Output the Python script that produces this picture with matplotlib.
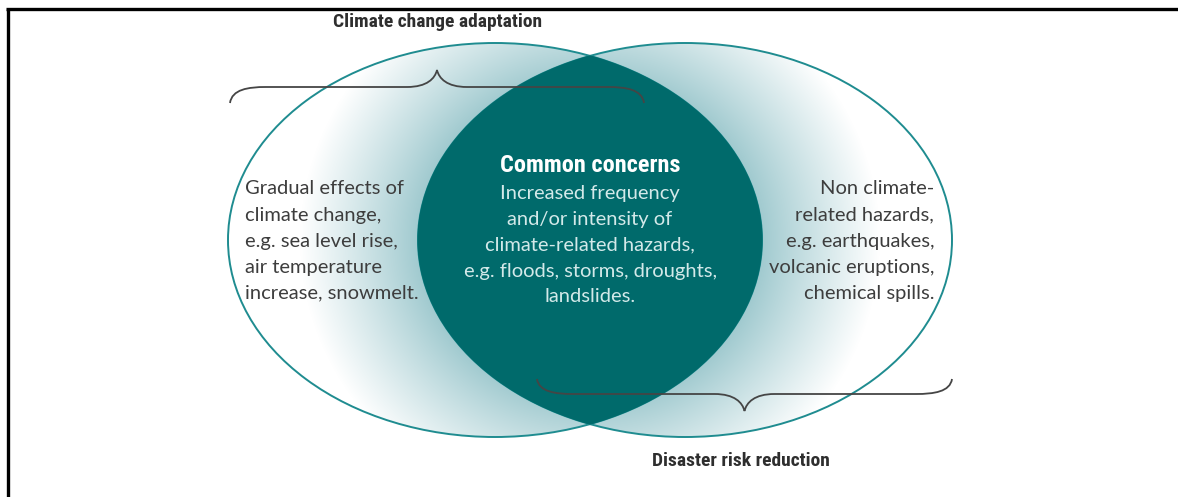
#!/usr/bin/env python3
"""Venn diagram: climate change adaptation vs disaster risk reduction."""

import numpy as np
import matplotlib
matplotlib.use("Agg")
import matplotlib.pyplot as plt
from matplotlib.patches import Ellipse, Polygon, PathPatch
from matplotlib.path import Path

W, H = 1178, 497

SET_LABELS = ["Climate change adaptation", "Disaster risk reduction"]
COMMON_TITLE = "Common concerns"
LEFT_LINES = ["Gradual effects of", "climate change,", "e.g. sea level rise,",
              "air temperature", "increase, snowmelt."]
RIGHT_LINES = ["Non climate-", "related hazards,", "e.g. earthquakes,",
               "volcanic eruptions,", "chemical spills."]
COMMON_LINES = ["Increased frequency", "and/or intensity of",
                "climate-related hazards,", "e.g. floods, storms, droughts,",
                "landslides."]

TEAL_DARK = "#006a6b"
TEAL_EDGE = "#1f8c90"
TEXT_GREY = "#3d3d3d"
BODY_FONT = ["Lato", "DejaVu Sans"]
HEAD_FONT = ["Roboto Condensed", "Liberation Sans Narrow", "DejaVu Sans"]

# ellipse geometry (pixels)
CX_L, CX_R, CY = 495, 685, 240
RX, RY = 267, 197


def brace(ax, x0, x1, y_end, y_line, y_tip):
    """Curly brace: ends at y_end, long arms at y_line, point at y_tip."""
    xm = (x0 + x1) / 2
    verts = [(x0, y_end), (x0 + 2, y_line + (y_end - y_line) * 0.15),
             (x0 + 18, y_line), (x0 + 36, y_line),
             (xm - 30, y_line),
             (xm - 10, y_line), (xm - 2, y_line + (y_tip - y_line) * 0.5), (xm, y_tip),
             (xm + 2, y_line + (y_tip - y_line) * 0.5), (xm + 10, y_line), (xm + 30, y_line),
             (x1 - 36, y_line),
             (x1 - 18, y_line), (x1 - 2, y_line + (y_end - y_line) * 0.15), (x1, y_end)]
    codes = [Path.MOVETO, Path.CURVE4, Path.CURVE4, Path.CURVE4,
             Path.LINETO,
             Path.CURVE4, Path.CURVE4, Path.CURVE4,
             Path.CURVE4, Path.CURVE4, Path.CURVE4,
             Path.LINETO,
             Path.CURVE4, Path.CURVE4, Path.CURVE4]
    ax.add_patch(PathPatch(Path(verts, codes), fill=False, edgecolor="#454545",
                           lw=1.3, zorder=6))


fig = plt.figure(figsize=(W / 100, H / 100), dpi=100)
ax = fig.add_axes([0, 0, 1, 1])
ax.set_xlim(0, W)
ax.set_ylim(H, 0)
ax.axis("off")

# radial gradient from the lens outwards
yy, xx = np.mgrid[0:H, 0:W] + 0.5
d = np.hypot(xx - (CX_L + CX_R) / 2, (yy - CY) * 1.05)
t = np.clip((d - 160) / (290 - 160), 0, 1) ** 0.9
inner = np.array([148, 195, 201]) / 255
img = inner[None, None, :] * (1 - t[..., None]) + t[..., None]

for cx in (CX_L, CX_R):
    clip = Ellipse((cx, CY), 2 * RX, 2 * RY, transform=ax.transData,
                   fc="none", ec="none")
    ax.add_patch(clip)
    im = ax.imshow(img, extent=(0, W, H, 0), origin="upper",
                   interpolation="bilinear", zorder=1)
    im.set_clip_path(clip)

for cx in (CX_L, CX_R):
    ax.add_patch(Ellipse((cx, CY), 2 * RX, 2 * RY, fc="none", ec=TEAL_EDGE,
                         lw=1.4, zorder=2))

# lens (intersection), drawn over the outlines
t0 = np.arccos(((CX_R - CX_L) / 2) / RX)
ta = np.linspace(-t0, t0, 200)
tb = np.linspace(np.pi - t0, np.pi + t0, 200)
lx = np.r_[CX_L + RX * np.cos(ta), CX_R + RX * np.cos(tb)]
ly = np.r_[CY + RY * np.sin(ta), CY + RY * np.sin(tb)]
ax.add_patch(Polygon(np.c_[lx, ly], closed=True, fc=TEAL_DARK, ec=TEAL_DARK,
                     lw=0.8, zorder=3))

brace(ax, 230, 644, 103, 87, 70)
brace(ax, 537, 952, 379, 394, 411)

ax.text(438, 22, SET_LABELS[0], ha="center", va="center", fontsize=14,
        fontweight="bold", family=HEAD_FONT, color="#2e2e2e", zorder=7)
ax.text(741, 461, SET_LABELS[1], ha="center", va="center", fontsize=14,
        fontweight="bold", family=HEAD_FONT, color="#2e2e2e", zorder=7)
ax.text(590, 166, COMMON_TITLE, ha="center", va="center", fontsize=17.5,
        fontweight="bold", family=HEAD_FONT, color="white", zorder=7)

step = 26
for i, s in enumerate(LEFT_LINES):
    ax.text(245, 189 + i * step, s, ha="left", va="center", fontsize=14.5,
            family=BODY_FONT, color=TEXT_GREY, zorder=7)
for i, s in enumerate(RIGHT_LINES):
    ax.text(934, 189 + i * step, s, ha="right", va="center", fontsize=14.5,
            family=BODY_FONT, color=TEXT_GREY, zorder=7)
for i, s in enumerate(COMMON_LINES):
    ax.text(590, 193 + i * step, s, ha="center", va="center", fontsize=14.5,
            family=BODY_FONT, color="#d3e9e9", zorder=7)

# frame (left and top edges only)
ax.plot([7.5, 7.5], [H, 8.5], color="black", lw=2.4, solid_capstyle="butt",
        zorder=8)
ax.plot([6, W], [8.5, 8.5], color="black", lw=2.4, solid_capstyle="butt",
        zorder=8)

fig.savefig("out.png", dpi=100)
